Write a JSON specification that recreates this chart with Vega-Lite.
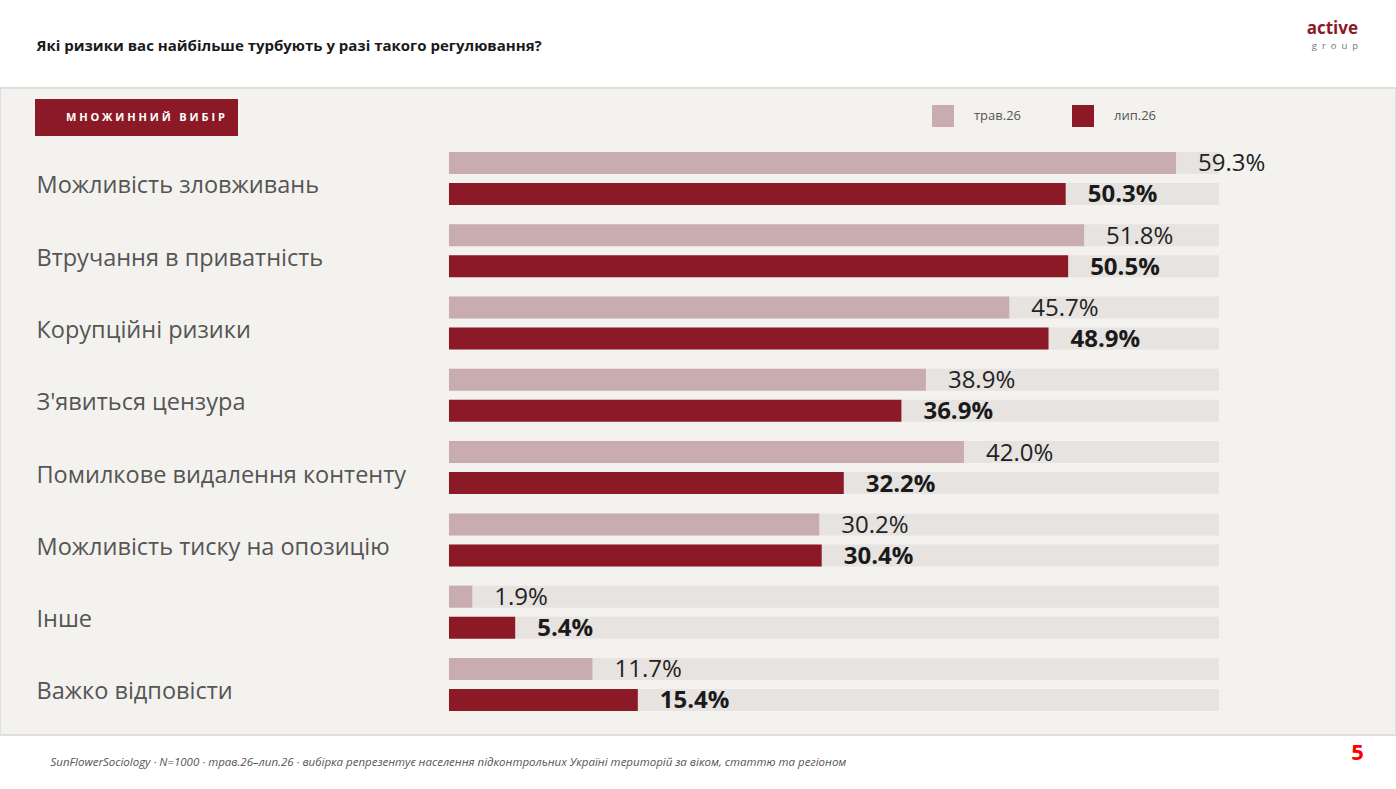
{
  "$schema": "https://vega.github.io/schema/vega-lite/v6.json",
  "width": 1396,
  "height": 647,
  "autosize": {"type": "none"},
  "padding": {"left": 0, "right": 0, "top": 88, "bottom": 54},
  "background": "#ffffff",
  "config": {
    "font": "Open Sans",
    "view": {"fill": "#f3f2ee", "stroke": "#dedede", "strokeWidth": 2}
  },
  "title": {
    "text": "active",
    "subtitle": "g\u00a0\u00a0r\u00a0\u00a0o\u00a0\u00a0u\u00a0\u00a0p",
    "anchor": "end",
    "frame": "group",
    "dx": -38,
    "offset": -13,
    "font": "Open Sans",
    "fontSize": 17,
    "fontWeight": "bold",
    "color": "#8b1a26",
    "subtitleFont": "Open Sans",
    "subtitleFontSize": 9.5,
    "subtitleColor": "#777777",
    "subtitlePadding": 3
  },
  "data": {
    "values": [
      {"cat": "Можливість зловживань", "series": "трав.26", "value": 0.593},
      {"cat": "Можливість зловживань", "series": "лип.26", "value": 0.503},
      {"cat": "Втручання в приватність", "series": "трав.26", "value": 0.518},
      {"cat": "Втручання в приватність", "series": "лип.26", "value": 0.505},
      {"cat": "Корупційні ризики", "series": "трав.26", "value": 0.457},
      {"cat": "Корупційні ризики", "series": "лип.26", "value": 0.489},
      {"cat": "З'явиться цензура", "series": "трав.26", "value": 0.389},
      {"cat": "З'явиться цензура", "series": "лип.26", "value": 0.369},
      {"cat": "Помилкове видалення контенту", "series": "трав.26", "value": 0.420},
      {"cat": "Помилкове видалення контенту", "series": "лип.26", "value": 0.322},
      {"cat": "Можливість тиску на опозицію", "series": "трав.26", "value": 0.302},
      {"cat": "Можливість тиску на опозицію", "series": "лип.26", "value": 0.304},
      {"cat": "Інше", "series": "трав.26", "value": 0.019},
      {"cat": "Інше", "series": "лип.26", "value": 0.054},
      {"cat": "Важко відповісти", "series": "трав.26", "value": 0.117},
      {"cat": "Важко відповісти", "series": "лип.26", "value": 0.154}
    ]
  },
  "encoding": {
    "y": {
      "field": "cat",
      "type": "nominal",
      "sort": null,
      "scale": {"paddingInner": 0.1, "paddingOuter": 0.525, "align": 0.763},
      "axis": {
        "orient": "left",
        "domain": false,
        "ticks": false,
        "tickSize": 0,
        "grid": false,
        "labelPadding": -36,
        "labelAlign": "left",
        "labelBaseline": "middle",
        "labelOffset": 8,
        "labelFont": "Open Sans",
        "labelFontSize": 23.5,
        "labelColor": "#555555",
        "labelLimit": 700,
        "title": "5",
        "titleAngle": 0,
        "titleX": 1357,
        "titleY": 664,
        "titleAlign": "center",
        "titleBaseline": "middle",
        "titleFont": "Open Sans",
        "titleFontSize": 22,
        "titleFontWeight": "bold",
        "titleColor": "#ff0000"
      }
    },
    "yOffset": {
      "field": "series",
      "type": "nominal",
      "sort": ["трав.26", "лип.26"],
      "scale": {"paddingInner": 0.29, "paddingOuter": 0.194}
    }
  },
  "layer": [
    {
      "mark": {"type": "bar", "color": "#e7e3e1"},
      "encoding": {
        "x": {
          "datum": 0.628,
          "type": "quantitative",
          "scale": {"domain": [-0.3662, 0.7724], "nice": false, "zero": false},
          "axis": {
            "orient": "bottom",
            "labels": false,
            "ticks": false,
            "domain": false,
            "grid": false,
            "title": "SunFlowerSociology · N=1000 · трав.26–лип.26 · вибірка репрезентує населення підконтрольних Україні територій за віком, статтю та регіоном",
            "titleX": 50,
            "titleY": 27,
            "titleAlign": "left",
            "titleAnchor": "start",
            "titleBaseline": "middle",
            "titleFont": "Open Sans",
            "titleFontSize": 11.5,
            "titleFontStyle": "italic",
            "titleFontWeight": "normal",
            "titleColor": "#555555"
          }
        },
        "x2": {"datum": 0}
      }
    },
    {
      "mark": {"type": "bar"},
      "encoding": {
        "x": {
          "field": "value",
          "type": "quantitative",
          "axis": {
            "orient": "top",
            "labels": false,
            "ticks": false,
            "domain": false,
            "grid": false,
            "title": "Які ризики вас найбільше турбують у разі такого регулювання?",
            "titleX": 36,
            "titleY": -43,
            "titleAlign": "left",
            "titleAnchor": "start",
            "titleBaseline": "middle",
            "titleFont": "Open Sans",
            "titleFontSize": 15,
            "titleFontWeight": "bold",
            "titleColor": "#1a1a1a"
          }
        },
        "x2": {"datum": 0},
        "color": {
          "field": "series",
          "type": "nominal",
          "scale": {"domain": ["трав.26", "лип.26"], "range": ["#c9acaf", "#8b1a26"]},
          "legend": {
            "orient": "none",
            "legendX": 932,
            "legendY": 17,
            "direction": "horizontal",
            "title": null,
            "padding": 0,
            "symbolType": "square",
            "symbolSize": 484,
            "symbolStrokeWidth": 0,
            "labelOffset": 20,
            "columnPadding": 50,
            "labelFont": "Open Sans",
            "labelFontSize": 13,
            "labelColor": "#555555"
          }
        }
      }
    },
    {
      "transform": [{"filter": "datum.series === 'трав.26'"}],
      "mark": {"type": "text", "align": "left", "baseline": "middle", "dx": 22, "dy": 1.5, "font": "Open Sans", "fontSize": 24, "color": "#222222"},
      "encoding": {
        "x": {"field": "value", "type": "quantitative", "axis": null},
        "text": {"field": "value", "type": "quantitative", "format": ".1%"}
      }
    },
    {
      "transform": [{"filter": "datum.series === 'лип.26'"}],
      "mark": {"type": "text", "align": "left", "baseline": "middle", "dx": 22, "dy": 1.5, "font": "Open Sans", "fontSize": 24, "fontWeight": "bold", "color": "#1a1a1a"},
      "encoding": {
        "x": {"field": "value", "type": "quantitative", "axis": null},
        "text": {"field": "value", "type": "quantitative", "format": ".1%"}
      }
    },
    {
      "mark": {"type": "point", "opacity": 0},
      "encoding": {
        "x": {"datum": 0, "type": "quantitative", "axis": null},
        "shape": {
          "datum": "М Н О Ж И Н Н И Й \u00a0 В И Б І Р",
          "legend": {
            "orient": "none",
            "legendX": 35,
            "legendY": 11,
            "title": null,
            "padding": 13,
            "fillColor": "#8b1a26",
            "symbolSize": 0,
            "symbolOpacity": 0,
            "symbolStrokeWidth": 0,
            "labelOffset": 7,
            "labelFont": "Open Sans",
            "labelFontSize": 11,
            "labelFontWeight": "bold",
            "labelColor": "#ffffff"
          }
        }
      }
    }
  ],
  "resolve": {"axis": {"x": "independent"}}
}
